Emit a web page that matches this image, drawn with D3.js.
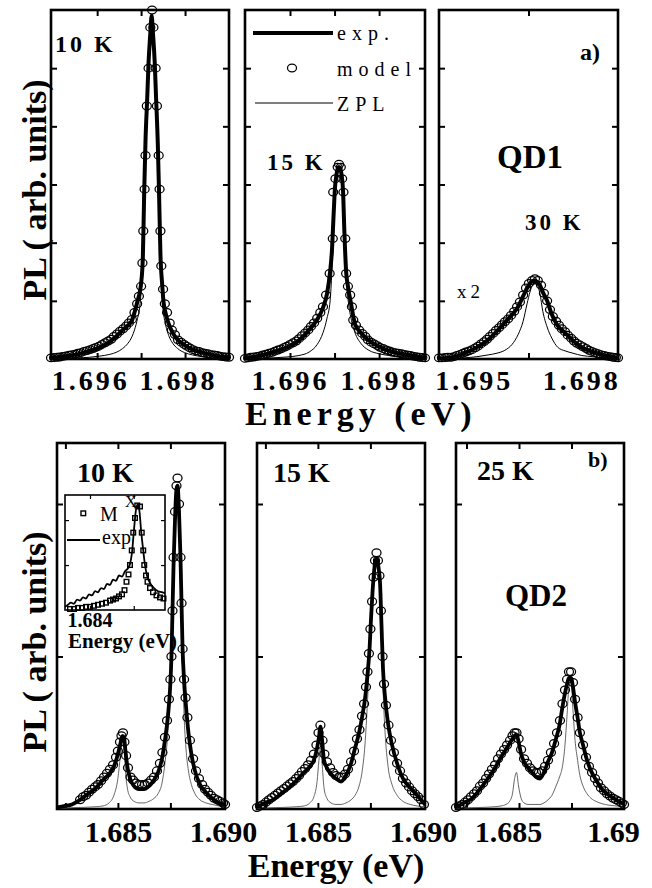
<!DOCTYPE html>
<html><head><meta charset="utf-8">
<script src="https://cdn.jsdelivr.net/npm/d3@7"></script>
<style>body{margin:0;background:#fff}svg{display:block}</style>
</head><body>
<svg id="c" width="652" height="888"></svg>
<script>
// ---------- DATA ----------
// (a) QD1, 10 K
const a1E = [1.69495,1.69520,1.69554,1.69583,1.69606,1.69629,1.69645,1.69658,1.69670,1.69679,1.69685,1.69692,1.69697,1.69700,1.69704,1.69707,1.69710,1.69714,1.69717,1.69721,1.69724,1.69727,1.69731,1.69734,1.69738,1.69741,1.69744,1.69748,1.69751,1.69756,1.69763,1.69772,1.69783,1.69799,1.69817,1.69840,1.69862,1.69883,1.69899];
const a1Exp = [0.02,0.04,0.08,0.14,0.2,0.3,0.4,0.5,0.58,0.66,0.8,1.0,1.15,1.3,1.75,2.85,3.75,4.5,5.1,5.6,5.9,5.6,5.1,4.5,3.7,2.8,1.8,1.28,0.98,0.78,0.6,0.45,0.33,0.24,0.16,0.11,0.07,0.04,0.03];
const a1Zpl = [0.01,0.015,0.02,0.03,0.05,0.08,0.12,0.18,0.27,0.38,0.5,0.7,0.9,1.15,1.6,2.8,3.75,4.5,5.1,5.6,5.9,5.6,5.1,4.5,3.7,2.75,1.65,1.1,0.8,0.58,0.4,0.27,0.18,0.11,0.07,0.04,0.03,0.02,0.015];
const a1ModelE = [1.69495,1.69502,1.69509,1.69515,1.69522,1.69529,1.69536,1.69543,1.69550,1.69556,1.69563,1.69570,1.69577,1.69584,1.69591,1.69597,1.69604,1.69611,1.69618,1.69625,1.69632,1.69638,1.69645,1.69652,1.69659,1.69666,1.69672,1.69679,1.69685,1.69691,1.69695,1.69700,1.69703,1.69705,1.69708,1.69710,1.69713,1.69717,1.69721,1.69725,1.69728,1.69733,1.69736,1.69740,1.69742,1.69744,1.69746,1.69750,1.69754,1.69759,1.69765,1.69770,1.69777,1.69784,1.69791,1.69798,1.69804,1.69811,1.69818,1.69825,1.69832,1.69839,1.69845,1.69852,1.69859,1.69866,1.69873,1.69879,1.69886,1.69893,1.69900];
const a1Model = [0.02,0.025,0.03,0.035,0.045,0.055,0.065,0.075,0.085,0.1,0.11,0.13,0.145,0.16,0.18,0.2,0.22,0.25,0.28,0.31,0.34,0.39,0.43,0.48,0.52,0.57,0.62,0.68,0.8,0.95,1.08,1.25,1.65,2.2,2.92,3.5,4.35,5.0,5.7,6.0,5.7,5.0,4.35,3.5,2.92,2.2,1.6,1.2,0.95,0.8,0.62,0.5,0.42,0.33,0.29,0.25,0.22,0.19,0.16,0.14,0.13,0.11,0.1,0.09,0.075,0.07,0.06,0.05,0.04,0.035,0.03];
// (a) QD1, 15 K
const a2E = [1.69499,1.69530,1.69564,1.69593,1.69620,1.69643,1.69661,1.69674,1.69683,1.69690,1.69694,1.69698,1.69701,1.69704,1.69707,1.69710,1.69713,1.69716,1.69719,1.69722,1.69726,1.69730,1.69737,1.69746,1.69759,1.69777,1.69800,1.69822,1.69849,1.69879,1.69903];
const a2Exp = [0.01,0.05,0.12,0.2,0.32,0.5,0.68,0.88,1.12,1.5,1.85,2.5,2.95,3.15,3.27,3.3,3.27,3.15,2.9,2.2,1.5,1.25,0.95,0.6,0.45,0.32,0.21,0.14,0.09,0.05,0.02];
const a2Zpl = [0.005,0.01,0.02,0.035,0.06,0.12,0.25,0.45,0.7,1.0,1.5,2.2,2.85,3.15,3.27,3.3,3.27,3.15,2.85,2.1,1.45,1.05,0.7,0.45,0.27,0.15,0.09,0.06,0.04,0.025,0.015];
const a2ModelE = [1.69499,1.69506,1.69512,1.69519,1.69526,1.69533,1.69539,1.69546,1.69553,1.69560,1.69566,1.69573,1.69580,1.69587,1.69593,1.69600,1.69607,1.69614,1.69620,1.69627,1.69634,1.69641,1.69647,1.69654,1.69661,1.69668,1.69674,1.69681,1.69689,1.69696,1.69697,1.69702,1.69707,1.69710,1.69714,1.69717,1.69720,1.69724,1.69726,1.69730,1.69735,1.69739,1.69742,1.69748,1.69755,1.69762,1.69769,1.69775,1.69782,1.69789,1.69796,1.69802,1.69809,1.69816,1.69823,1.69829,1.69836,1.69843,1.69850,1.69856,1.69863,1.69870,1.69876,1.69883,1.69890,1.69897,1.69903];
const a2Model = [0.01,0.02,0.03,0.035,0.045,0.055,0.07,0.085,0.1,0.115,0.135,0.155,0.175,0.2,0.22,0.25,0.28,0.31,0.35,0.4,0.45,0.5,0.56,0.62,0.7,0.8,0.9,1.1,1.47,2.07,2.87,3.1,3.3,3.35,3.3,3.1,2.87,2.07,1.47,1.25,1.1,0.9,0.67,0.58,0.5,0.44,0.39,0.33,0.29,0.26,0.23,0.2,0.18,0.155,0.14,0.12,0.11,0.1,0.09,0.08,0.07,0.06,0.05,0.04,0.03,0.025,0.02];
// (a) QD1, 30 K (x2)
const a3E = [1.69400,1.69439,1.69472,1.69506,1.69537,1.69562,1.69584,1.69604,1.69621,1.69635,1.69646,1.69654,1.69661,1.69668,1.69675,1.69682,1.69690,1.69702,1.69715,1.69732,1.69752,1.69774,1.69799,1.69830,1.69864,1.69900];
const a3Exp = [0.01,0.03,0.1,0.2,0.33,0.48,0.63,0.76,0.9,1.08,1.22,1.3,1.34,1.35,1.32,1.27,1.15,1.0,0.77,0.57,0.45,0.32,0.2,0.12,0.06,0.02];
const a3Zpl = [0.005,0.01,0.02,0.04,0.07,0.1,0.15,0.25,0.42,0.65,0.95,1.15,1.27,1.3,1.27,1.12,0.82,0.55,0.36,0.2,0.14,0.1,0.06,0.04,0.02,0.01];
const a3ModelE = [1.69400,1.69408,1.69417,1.69425,1.69434,1.69442,1.69450,1.69459,1.69467,1.69475,1.69484,1.69492,1.69501,1.69509,1.69517,1.69526,1.69534,1.69542,1.69551,1.69559,1.69568,1.69576,1.69584,1.69593,1.69601,1.69610,1.69618,1.69626,1.69635,1.69643,1.69651,1.69660,1.69668,1.69676,1.69685,1.69693,1.69702,1.69710,1.69718,1.69727,1.69735,1.69743,1.69752,1.69760,1.69769,1.69777,1.69785,1.69794,1.69802,1.69811,1.69819,1.69827,1.69836,1.69844,1.69852,1.69861,1.69869,1.69878,1.69886,1.69894,1.69900];
const a3Model = [0.02,0.02,0.025,0.03,0.03,0.04,0.06,0.08,0.1,0.12,0.14,0.16,0.19,0.22,0.26,0.3,0.34,0.39,0.44,0.49,0.54,0.59,0.64,0.69,0.75,0.82,0.9,0.98,1.1,1.22,1.3,1.35,1.38,1.35,1.27,1.13,1.0,0.85,0.73,0.65,0.58,0.52,0.47,0.41,0.36,0.31,0.27,0.24,0.21,0.18,0.15,0.13,0.11,0.09,0.075,0.06,0.05,0.04,0.03,0.025,0.02];
// (b) QD2, 10 K
const b1E = [1.68210,1.68248,1.68281,1.68320,1.68358,1.68396,1.68429,1.68458,1.68481,1.68500,1.68512,1.68522,1.68529,1.68536,1.68546,1.68558,1.68577,1.68600,1.68624,1.68648,1.68672,1.68691,1.68710,1.68724,1.68739,1.68748,1.68755,1.68760,1.68765,1.68772,1.68779,1.68784,1.68791,1.68798,1.68803,1.68808,1.68815,1.68824,1.68836,1.68850,1.68867,1.68891,1.68919,1.68948,1.68981,1.69010];
const b1Exp = [0.01,0.02,0.03,0.06,0.1,0.14,0.19,0.23,0.28,0.36,0.43,0.48,0.47,0.38,0.27,0.2,0.15,0.13,0.13,0.15,0.19,0.24,0.33,0.45,0.62,0.78,1.0,1.3,1.6,1.9,2.1,2.12,1.95,1.65,1.35,1.05,0.85,0.68,0.5,0.36,0.25,0.16,0.11,0.07,0.04,0.03];
const b1Zpl = [0.005,0.006,0.008,0.01,0.012,0.015,0.02,0.04,0.09,0.2,0.35,0.46,0.4,0.25,0.13,0.08,0.05,0.04,0.04,0.05,0.07,0.1,0.17,0.3,0.52,0.74,1.0,1.3,1.6,1.9,2.1,2.12,1.95,1.65,1.3,0.95,0.62,0.4,0.25,0.16,0.1,0.06,0.04,0.03,0.02,0.015];
const b1ModelE = [1.68320,1.68334,1.68348,1.68362,1.68377,1.68391,1.68405,1.68420,1.68434,1.68448,1.68462,1.68477,1.68491,1.68500,1.68510,1.68517,1.68524,1.68531,1.68539,1.68548,1.68560,1.68572,1.68586,1.68600,1.68615,1.68629,1.68643,1.68658,1.68672,1.68686,1.68700,1.68712,1.68724,1.68734,1.68743,1.68750,1.68755,1.68760,1.68765,1.68772,1.68779,1.68784,1.68791,1.68798,1.68803,1.68808,1.68815,1.68822,1.68831,1.68843,1.68858,1.68872,1.68886,1.68901,1.68915,1.68929,1.68943,1.68958,1.68972,1.68986,1.69001,1.69010];
const b1Model = [0.06,0.08,0.09,0.11,0.13,0.145,0.16,0.185,0.21,0.235,0.26,0.29,0.34,0.38,0.44,0.48,0.5,0.44,0.35,0.27,0.21,0.19,0.17,0.16,0.16,0.16,0.17,0.19,0.21,0.25,0.3,0.37,0.47,0.58,0.72,0.85,1.0,1.3,1.65,1.95,2.12,2.17,2.0,1.65,1.35,1.05,0.85,0.73,0.6,0.45,0.33,0.25,0.2,0.16,0.13,0.11,0.09,0.07,0.06,0.05,0.04,0.03];
// (b) QD2, 15 K
const b2E = [1.68210,1.68248,1.68286,1.68324,1.68362,1.68400,1.68434,1.68462,1.68481,1.68496,1.68505,1.68512,1.68520,1.68529,1.68543,1.68562,1.68586,1.68610,1.68634,1.68658,1.68677,1.68696,1.68710,1.68724,1.68736,1.68746,1.68753,1.68760,1.68767,1.68774,1.68781,1.68789,1.68796,1.68803,1.68810,1.68820,1.68834,1.68853,1.68877,1.68905,1.68939,1.68972,1.69010];
const b2Exp = [0.01,0.04,0.06,0.1,0.14,0.19,0.24,0.28,0.32,0.4,0.47,0.54,0.45,0.32,0.27,0.23,0.2,0.18,0.22,0.3,0.4,0.5,0.6,0.72,0.88,1.05,1.25,1.42,1.55,1.63,1.64,1.58,1.48,1.2,0.92,0.73,0.56,0.42,0.3,0.2,0.14,0.09,0.03];
const b2Zpl = [0.005,0.006,0.008,0.01,0.012,0.015,0.02,0.04,0.08,0.18,0.32,0.4,0.3,0.14,0.07,0.04,0.03,0.03,0.04,0.06,0.09,0.15,0.24,0.42,0.7,1.0,1.22,1.42,1.55,1.63,1.64,1.58,1.45,1.15,0.8,0.5,0.28,0.16,0.09,0.05,0.03,0.02,0.015];
const b2ModelE = [1.68210,1.68224,1.68239,1.68253,1.68267,1.68281,1.68296,1.68310,1.68324,1.68339,1.68353,1.68367,1.68381,1.68396,1.68410,1.68424,1.68439,1.68453,1.68467,1.68481,1.68493,1.68503,1.68512,1.68522,1.68531,1.68543,1.68558,1.68572,1.68586,1.68600,1.68615,1.68629,1.68643,1.68658,1.68672,1.68686,1.68698,1.68710,1.68720,1.68729,1.68736,1.68743,1.68750,1.68758,1.68765,1.68772,1.68779,1.68786,1.68793,1.68800,1.68808,1.68815,1.68824,1.68836,1.68848,1.68862,1.68877,1.68891,1.68905,1.68920,1.68934,1.68948,1.68962,1.68977,1.68991,1.69005];
const b2Model = [0.01,0.02,0.03,0.045,0.06,0.075,0.09,0.105,0.12,0.135,0.15,0.165,0.18,0.2,0.22,0.245,0.265,0.29,0.32,0.36,0.42,0.5,0.55,0.45,0.36,0.31,0.27,0.24,0.22,0.21,0.21,0.23,0.26,0.31,0.38,0.46,0.52,0.61,0.69,0.8,0.9,1.02,1.18,1.36,1.52,1.63,1.68,1.63,1.53,1.3,1.0,0.82,0.68,0.55,0.45,0.37,0.3,0.25,0.2,0.17,0.145,0.12,0.1,0.08,0.06,0.03];
// (b) QD2, 25 K
const b3E = [1.68200,1.68238,1.68276,1.68314,1.68352,1.68386,1.68414,1.68438,1.68455,1.68469,1.68479,1.68488,1.68498,1.68510,1.68524,1.68543,1.68562,1.68581,1.68600,1.68619,1.68638,1.68657,1.68676,1.68693,1.68707,1.68719,1.68729,1.68738,1.68748,1.68757,1.68767,1.68779,1.68790,1.68805,1.68824,1.68843,1.68867,1.68895,1.68929,1.68962,1.69000];
const b3Exp = [0.01,0.04,0.07,0.13,0.2,0.27,0.34,0.39,0.43,0.46,0.48,0.49,0.44,0.36,0.31,0.27,0.24,0.21,0.2,0.24,0.31,0.37,0.46,0.55,0.67,0.76,0.82,0.86,0.86,0.8,0.7,0.6,0.5,0.42,0.32,0.25,0.19,0.13,0.09,0.06,0.03];
const b3Zpl = [0.005,0.006,0.008,0.01,0.012,0.015,0.02,0.03,0.05,0.1,0.2,0.24,0.15,0.07,0.04,0.03,0.03,0.03,0.03,0.04,0.06,0.09,0.15,0.21,0.28,0.42,0.62,0.8,0.83,0.65,0.45,0.32,0.22,0.15,0.1,0.07,0.05,0.035,0.025,0.02,0.015];
const b3ModelE = [1.68200,1.68214,1.68229,1.68243,1.68257,1.68271,1.68286,1.68300,1.68314,1.68329,1.68343,1.68357,1.68371,1.68386,1.68400,1.68414,1.68429,1.68443,1.68457,1.68469,1.68479,1.68488,1.68498,1.68510,1.68524,1.68538,1.68552,1.68567,1.68581,1.68595,1.68610,1.68624,1.68638,1.68652,1.68667,1.68681,1.68695,1.68707,1.68719,1.68729,1.68738,1.68748,1.68757,1.68767,1.68779,1.68790,1.68805,1.68819,1.68833,1.68848,1.68862,1.68876,1.68890,1.68905,1.68919,1.68933,1.68948,1.68962,1.68976,1.68990,1.69000];
const b3Model = [0.01,0.02,0.03,0.045,0.06,0.08,0.1,0.12,0.15,0.17,0.2,0.23,0.26,0.29,0.33,0.36,0.39,0.42,0.45,0.48,0.5,0.5,0.46,0.39,0.33,0.3,0.27,0.25,0.24,0.24,0.25,0.28,0.32,0.37,0.43,0.5,0.58,0.69,0.78,0.85,0.9,0.9,0.83,0.72,0.6,0.5,0.42,0.34,0.28,0.24,0.2,0.17,0.14,0.12,0.1,0.085,0.07,0.06,0.05,0.04,0.03];
// inset: M^X model (squares) vs exp
const insE = [1.68200,1.68224,1.68248,1.68272,1.68296,1.68320,1.68344,1.68368,1.68392,1.68416,1.68440,1.68464,1.68488,1.68512,1.68536,1.68560,1.68584,1.68608,1.68632,1.68656,1.68680,1.68704,1.68720,1.68736,1.68752,1.68768,1.68782,1.68796,1.68808,1.68824,1.68840,1.68856,1.68880,1.68912,1.68944,1.68976,1.69000];
const insExp = [0.03,0.05,0.07,0.06,0.1,0.09,0.12,0.11,0.15,0.14,0.18,0.17,0.21,0.2,0.25,0.24,0.29,0.28,0.33,0.32,0.37,0.4,0.44,0.55,0.77,0.96,1.01,0.94,0.77,0.59,0.43,0.33,0.26,0.21,0.18,0.17,0.16];
const insMxE = [1.68240,1.68272,1.68304,1.68336,1.68368,1.68400,1.68432,1.68464,1.68496,1.68528,1.68560,1.68584,1.68608,1.68632,1.68656,1.68676,1.68692,1.68708,1.68720,1.68734,1.68746,1.68760,1.68778,1.68800,1.68814,1.68826,1.68834,1.68848,1.68860,1.68880,1.68904,1.68932,1.68960,1.68988];
const insMx = [0.01,0.01,0.02,0.02,0.03,0.03,0.04,0.05,0.06,0.07,0.09,0.1,0.11,0.13,0.15,0.19,0.27,0.34,0.43,0.57,0.74,0.88,1.0,0.99,0.74,0.57,0.43,0.33,0.27,0.21,0.17,0.14,0.12,0.11];
// ticks / labels
const aTicks12 = [1.696,1.697,1.698], aLabels12 = [1.696,1.698];
const aTicks3 = [1.6965], aLabels3 = [1.695,1.698];
const aYTicks = [1,2,3,4,5];
const bTicks = [1.6825,1.685,1.6875], bLabels = [1.685,1.690];
const bLabelText12 = ["1.685","1.690"], bLabelText3 = ["1.685","1.69"];
const bYTicks = [1,2];
const insTicks = [1.684,1.6875], insYTicks = [0.43,0.86];
const legendText = ["exp.","model","ZPL"];

// ---------- DRAW ----------
const svg = d3.select("#c");
const FF = "'Liberation Serif','Times New Roman',Times,serif";

function txt(x, y, s, size, weight, ls, anchor) {
  return svg.append("text").attr("x", x).attr("y", y).text(s)
    .attr("font-family", FF).attr("font-size", size).attr("font-weight", weight || "bold")
    .attr("letter-spacing", ls || 0).attr("text-anchor", anchor || "start").attr("fill", "#000");
}

function panel(p) {
  const x = d3.scaleLinear().domain(p.xDom).range([p.left, p.right]);
  const y = d3.scaleLinear().domain(p.yDom).range([p.bottom, p.top]);
  const g = svg.append("g");
  if (p.bg) g.append("rect").attr("x", p.left).attr("y", p.top).attr("width", p.right - p.left)
    .attr("height", p.bottom - p.top).attr("fill", "#fff");
  const tk = (axis, tr) => {
    const a = g.append("g").attr("transform", tr).call(axis);
    a.select(".domain").remove();
    a.selectAll("line").attr("stroke", "#000").attr("stroke-width", p.tickW || 2);
    a.selectAll("text").remove();
  };
  tk(d3.axisBottom(x).tickValues(p.xTicks).tickSize(-p.tickLen), `translate(0,${p.bottom})`);
  tk(d3.axisTop(x).tickValues(p.xTicks).tickSize(-p.tickLen), `translate(0,${p.top})`);
  tk(d3.axisLeft(y).tickValues(p.yTicks).tickSize(-p.tickLen), `translate(${p.left},0)`);
  tk(d3.axisRight(y).tickValues(p.yTicks).tickSize(-p.tickLen), `translate(${p.right},0)`);
  g.append("rect").attr("x", p.left).attr("y", p.top).attr("width", p.right - p.left)
    .attr("height", p.bottom - p.top).attr("fill", "none").attr("stroke", "#000").attr("stroke-width", p.frameW);
  if (p.xLabels) {
    const la = g.append("g").attr("transform", `translate(0,${p.labelY})`)
      .call(d3.axisBottom(x).tickValues(p.xLabels).tickSize(0).tickFormat((d, i) => p.xLabelText[i]));
    la.select(".domain").remove();
    la.selectAll("text").attr("y", 0).attr("dy", 0).attr("dx", p.labelDx || 0)
      .attr("font-family", FF).attr("font-weight", "bold").attr("font-size", p.labelSize)
      .attr("letter-spacing", p.labelLS || 0).attr("fill", "#000");
  }
  const line = d3.line().x(d => x(d[0])).y(d => y(d[1])).curve(d3.curveMonotoneX);
  if (p.zpl) g.append("path").datum(d3.zip(p.E, p.zpl)).attr("d", line).attr("fill", "none")
    .attr("stroke", p.zplColor).attr("stroke-width", p.zplW);
  if (p.exp) g.append("path").datum(d3.zip(p.E, p.exp)).attr("d", line).attr("fill", "none")
    .attr("stroke", "#000").attr("stroke-width", p.expW).attr("stroke-linejoin", "round");
  if (p.model) g.selectAll(null).data(d3.zip(p.modelE, p.model)).join("ellipse")
    .attr("cx", d => x(d[0])).attr("cy", d => y(d[1])).attr("rx", p.rx).attr("ry", p.ry)
    .attr("fill", "none").attr("stroke", "#000").attr("stroke-width", 1.25);
  if (p.squares) g.selectAll(null).data(d3.zip(p.sqE, p.squares)).join("rect")
    .attr("x", d => x(d[0]) - 2.3).attr("y", d => y(d[1]) - 2.3).attr("width", 4.6).attr("height", 4.6)
    .attr("fill", "none").attr("stroke", "#000").attr("stroke-width", 1.4);
  return { x, y };
}

const fmt3 = d => d3.format(".3f")(d);
const topCommon = { top: 10, bottom: 359, yDom: [0, 6], yTicks: aYTicks, tickLen: 6, frameW: 2.6,
  labelY: 390, labelSize: 28, labelLS: 3, expW: 4, zplW: 1, zplColor: "#000", rx: 4.5, ry: 3.8 };
panel(Object.assign({}, topCommon, { left: 51, right: 229, xDom: [1.69495, 1.69900], xTicks: aTicks12,
  xLabels: aLabels12, xLabelText: aLabels12.map(fmt3), labelDx: -7,
  E: a1E, exp: a1Exp, zpl: a1Zpl, modelE: a1ModelE, model: a1Model }));
panel(Object.assign({}, topCommon, { left: 245, right: 425, xDom: [1.69499, 1.69903], xTicks: aTicks12,
  xLabels: aLabels12, xLabelText: aLabels12.map(fmt3), labelDx: 0,
  E: a2E, exp: a2Exp, zpl: a2Zpl, modelE: a2ModelE, model: a2Model }));
panel(Object.assign({}, topCommon, { left: 439, right: 618, xDom: [1.69400, 1.69900], xTicks: aTicks3,
  xLabels: aLabels3, xLabelText: aLabels3.map(fmt3), labelDx: -1,
  E: a3E, exp: a3Exp, zpl: a3Zpl, modelE: a3ModelE, model: a3Model }));

const botCommon = { top: 443, bottom: 809, yDom: [0, 2.4], yTicks: bYTicks, tickLen: 6, frameW: 2.6,
  labelY: 842, labelSize: 30, labelLS: 0, expW: 3.8, zplW: 0.9, zplColor: "#555", rx: 4.5, ry: 3.9 };
panel(Object.assign({}, botCommon, { left: 57, right: 225, xDom: [1.6821, 1.6901], xTicks: bTicks,
  xLabels: bLabels, xLabelText: bLabelText12, E: b1E, exp: b1Exp, zpl: b1Zpl, modelE: b1ModelE, model: b1Model }));
panel(Object.assign({}, botCommon, { left: 257, right: 425, xDom: [1.6821, 1.6901], xTicks: bTicks,
  xLabels: bLabels, xLabelText: bLabelText12, E: b2E, exp: b2Exp, zpl: b2Zpl, modelE: b2ModelE, model: b2Model }));
panel(Object.assign({}, botCommon, { left: 456, right: 624, xDom: [1.6820, 1.6900], xTicks: bTicks,
  xLabels: bLabels, xLabelText: bLabelText3, labelDx: -11, E: b3E, exp: b3Exp, zpl: b3Zpl, modelE: b3ModelE, model: b3Model }));

// inset
panel({ left: 65, right: 165, top: 495, bottom: 610, xDom: [1.6820, 1.6900], yDom: [0, 1.1],
  xTicks: insTicks, yTicks: insYTicks, tickLen: 4, tickW: 1.2, frameW: 1.6, bg: true,
  E: insE, exp: insExp, expW: 1.8, sqE: insMxE, squares: insMx });
txt(90, 627, "1.684", 20, "bold", 0, "middle");
txt(68, 648, "Energy (eV)", 21, "bold", 0, "start");
svg.append("rect").attr("x", 81).attr("y", 511).attr("width", 4.6).attr("height", 4.6)
  .attr("fill", "none").attr("stroke", "#000").attr("stroke-width", 1.4);
txt(100, 521, "M", 20, "normal");
txt(125, 507, "X", 16, "normal");
svg.append("line").attr("x1", 67).attr("x2", 100).attr("y1", 540).attr("y2", 540).attr("stroke", "#000").attr("stroke-width", 2);
txt(102, 544, "exp", 20, "normal");

// legend (top)
svg.append("line").attr("x1", 253).attr("x2", 333).attr("y1", 33).attr("y2", 33).attr("stroke", "#000").attr("stroke-width", 4);
svg.append("ellipse").attr("cx", 292).attr("cy", 68).attr("rx", 4.5).attr("ry", 3.8).attr("fill", "none").attr("stroke", "#000").attr("stroke-width", 1.25);
svg.append("line").attr("x1", 255).attr("x2", 333).attr("y1", 103).attr("y2", 103).attr("stroke", "#000").attr("stroke-width", 1);
legendText.forEach((t, i) => txt(337, [40, 76, 111][i], t, 20, "normal", 6));

// panel annotations (top)
txt(55, 52, "10 K", 24, "bold", 3);
txt(267, 170, "15 K", 23, "bold", 3);
txt(525, 230, "30 K", 23, "bold", 3);
txt(497, 168, "QD1", 33, "bold", 0);
txt(580, 60, "a)", 24, "bold", 0);
txt(457, 298, "x2", 19, "normal", 4);
// axis titles (top)
txt(245, 425, "Energy (eV)", 34, "bold", 5);
txt(0, 0, "PL ( arb. units)", 34, "bold", 0, "middle").attr("transform", "translate(46,190) rotate(-90)");

// annotations (bottom)
txt(77, 482, "10 K", 28, "bold");
txt(273, 482, "15 K", 28, "bold");
txt(477, 480, "25 K", 28, "bold");
txt(588, 467, "b)", 22, "bold");
txt(505, 606, "QD2", 31, "bold");
txt(336, 877, "Energy (eV)", 34, "bold", 0, "middle");
txt(0, 0, "PL ( arb. units)", 34, "bold", 0, "middle").attr("transform", "translate(46,642) rotate(-90)");
</script>
</body></html>
